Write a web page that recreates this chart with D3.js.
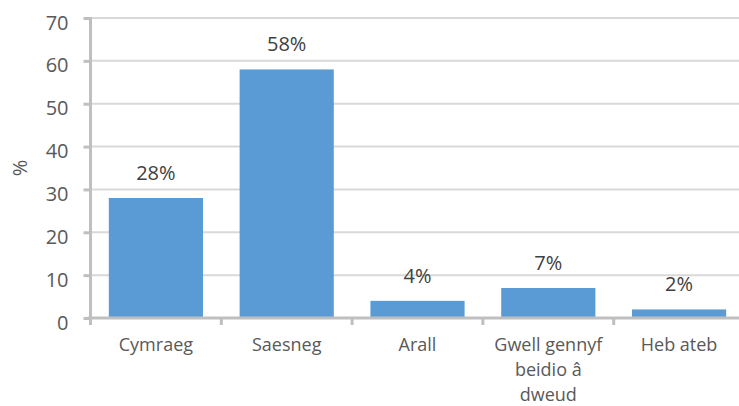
<!DOCTYPE html>
<html>
<head>
<meta charset="utf-8">
<script src="https://cdn.jsdelivr.net/npm/d3@7"></script>
<style>
  html, body { margin: 0; padding: 0; background: #fff; }
  svg { display: block; font-family: "Open Sans", sans-serif; }
</style>
</head>
<body>
<svg id="chart" width="739" height="406"></svg>
<script>
const categories = ["Cymraeg", "Saesneg", "Arall", "Gwell gennyf\nbeidio â\ndweud", "Heb ateb"];
const values = [28, 58, 4, 7, 2];
const dataLabels = ["28%", "58%", "4%", "7%", "2%"];
const yTicks = [0, 10, 20, 30, 40, 50, 60, 70];
const yTitle = "%";

const svg = d3.select("#chart");
const W = 739, H = 406;
const x0 = 90.5, x1 = 744.5, yTop = 18, yBottom = 318;

const x = d3.scaleBand().domain(categories).range([x0, x1])
  .paddingInner(0.28).paddingOuter(0.14);
const y = d3.scaleLinear().domain([0, 70]).range([yBottom, yTop]);
const step = x.step();

// gridlines
svg.append("g").selectAll("line").data(yTicks.filter(d => d > 0)).join("line")
  .attr("x1", x0 + 1).attr("x2", W)
  .attr("y1", d => y(d)).attr("y2", d => y(d))
  .attr("stroke", "#d9d9d9").attr("stroke-width", 2);

// bars
svg.append("g").selectAll("rect").data(values).join("rect")
  .attr("x", (d, i) => x(categories[i]))
  .attr("width", x.bandwidth())
  .attr("y", d => y(d))
  .attr("height", d => y(0) - y(d))
  .attr("fill", "#5b9bd5");

// data labels
svg.append("g").selectAll("text").data(values).join("text")
  .attr("x", (d, i) => x(categories[i]) + x.bandwidth() / 2)
  .attr("y", d => y(d) - 18)
  .attr("text-anchor", "middle")
  .attr("font-size", 20)
  .attr("fill", "#404040")
  .text((d, i) => dataLabels[i]);

// y axis
const yAxis = svg.append("g").attr("transform", `translate(${x0},0)`)
  .call(d3.axisLeft(y).tickValues(yTicks).tickSize(7).tickPadding(15).tickFormat(d3.format("d")));
yAxis.select(".domain").attr("stroke", "#bfbfbf").attr("stroke-width", 3)
  .attr("d", `M0,${yTop - 1}V${yBottom + 1}`);
yAxis.selectAll(".tick line").attr("stroke", "#bfbfbf").attr("stroke-width", 3);
yAxis.selectAll(".tick text").attr("font-size", 20).attr("fill", "#595959")
  .attr("font-family", "Open Sans, sans-serif").attr("dy", "0.55em");

// x axis
const xAxisG = svg.append("g");
xAxisG.append("line").attr("x1", x0 - 3).attr("x2", W).attr("y1", yBottom).attr("y2", yBottom)
  .attr("stroke", "#bfbfbf").attr("stroke-width", 3);
const boundaries = categories.map(c => x(c) - step * x.paddingInner() / 2);
xAxisG.selectAll("line.tk").data(boundaries).join("line").attr("class", "tk")
  .attr("x1", d => d).attr("x2", d => d)
  .attr("y1", yBottom).attr("y2", yBottom + 7)
  .attr("stroke", "#bfbfbf").attr("stroke-width", 3);

// category labels
const catG = svg.append("g");
categories.forEach(c => {
  const t = catG.append("text")
    .attr("x", x(c) + x.bandwidth() / 2)
    .attr("y", 351)
    .attr("text-anchor", "middle")
    .attr("font-size", 18)
    .attr("fill", "#595959");
  c.split("\n").forEach((line, i) => {
    t.append("tspan").attr("x", x(c) + x.bandwidth() / 2)
      .attr("dy", i === 0 ? 0 : 25).text(line);
  });
});

// y title
svg.append("text")
  .attr("transform", `translate(27,${(yTop + yBottom) / 2}) rotate(-90)`)
  .attr("text-anchor", "middle")
  .attr("font-size", 20)
  .attr("fill", "#595959")
  .text(yTitle);
</script>
</body>
</html>
